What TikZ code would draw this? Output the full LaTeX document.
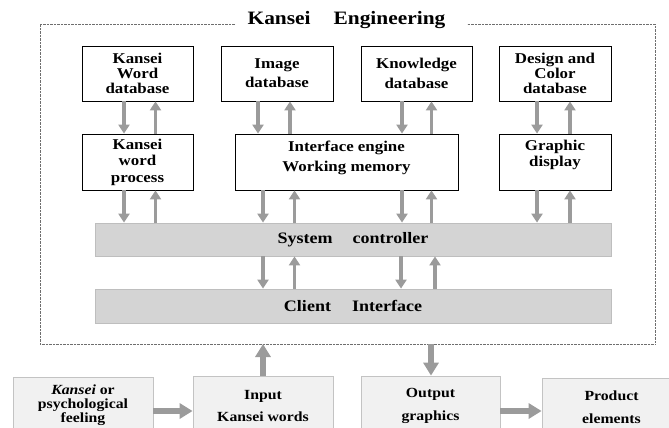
\documentclass[tikz,border=0pt]{standalone}
\usepackage{fontspec}
\setmainfont[FakeStretch=1.13]{Liberation Serif}
\usetikzlibrary{arrows.meta,calc}
\definecolor{arrowgray}{RGB}{155,155,155}
\definecolor{barfill}{RGB}{212,212,212}
\definecolor{barline}{RGB}{190,190,190}
\definecolor{lowfill}{RGB}{241,241,241}
\definecolor{lowline}{RGB}{195,195,195}
\definecolor{framecol}{RGB}{110,110,110}
\begin{document}
\begin{tikzpicture}[x=1bp,y=-1bp,
  topbox/.style={draw=black, line width=0.8bp, fill=white, minimum width=111bp,
    minimum height=55bp, inner sep=0pt, align=center},
  bar/.style={draw=barline, line width=0.8bp, fill=barfill, minimum width=516bp,
    minimum height=33bp, inner sep=0pt, font={\bfseries\fontsize{16}{16}\selectfont}},
  lowbox/.style={draw=lowline, line width=0.8bp, fill=lowfill, minimum width=140bp,
    minimum height=60bp, inner sep=0pt, align=center},
  lead/.style={font={\bfseries\fontsize{15}{#1}\selectfont}},
  lowlead/.style={font={\bfseries\fontsize{14}{#1}\selectfont}},
  thinarrow/.style={color=arrowgray, line width=3.3bp, -{Triangle[width=11bp,length=9bp]}},
  thickarrow/.style={color=arrowgray, line width=6.3bp, -{Triangle[width=15bp,length=13bp]}},
  framestyle/.style={draw=framecol, line width=0.7bp, dash pattern=on 0.7bp off 0.7bp},
  titletext/.style={inner sep=0pt, font={\bfseries\fontsize{19}{19}\selectfont}}
]
\useasboundingbox (0,0) rectangle (669,427);
\clip (0,0) rectangle (669,427);

% frame and title
\draw[framestyle] (235,24) -- (40,24) -- (40,344) -- (655,344) -- (655,24) -- (467,24);
\node[titletext] (title) at (346.5,20) {Kansei\hspace{23bp}Engineering};

% top row
\node[topbox, lead=15] (kwd) at (137.5,73.5) {Kansei\\Word\\database};
\node[topbox, lead=19, minimum width=112bp] (img) at (277,73.5) {Image\\database};
\node[topbox, lead=20] (knw) at (416.5,73.5) {Knowledge\\database};
\node[topbox, lead=15, minimum width=112bp] (dcd) at (555,73.5) {Design and\\Color\\database};

% middle row
\node[topbox, lead=16.5, minimum height=56bp] (kwp) at (137.5,162) {Kansei\\word\\process};
\node[topbox, lead=20, minimum height=56bp, minimum width=223bp, text depth=11bp] (ie) at (346.5,162) {Interface engine\\Working memory};
\node[topbox, lead=16, minimum height=56bp, minimum width=112bp, text depth=17bp] (gd) at (555,162) {Graphic\\display};

% bars
\node[bar] (sys) at (353,239.5) {System\hspace{20bp}controller};
\node[bar, minimum height=34bp] (cli) at (353,306) {Client\hspace{21bp}Interface};

% bottom boxes
\node[lowbox, lowlead=14, minimum height=56bp] (kf) at (83,405) {\textit{Kansei} or\\psychological\\feeling};
\node[lowbox, lowlead=22.5] (inp) at (263,406) {Input\\Kansei words};
\node[lowbox, lowlead=22.5, minimum width=139bp] (out) at (430.5,406) {Output\\graphics};
\node[lowbox, lowlead=23, minimum width=139bp, minimum height=58bp] (prod) at (611.5,407) {Product\\elements};

% column coordinates
\coordinate (a1) at (124,0);  \coordinate (a2) at (155.5,0);
\coordinate (b1) at (258,0);  \coordinate (b2) at (290,0);
\coordinate (c1) at (263,0);  \coordinate (c2) at (294.5,0);
\coordinate (d1) at (402,0);  \coordinate (d2) at (431.5,0);
\coordinate (e1) at (537,0);  \coordinate (e2) at (570,0);
\coordinate (f1) at (401,0);  \coordinate (f2) at (435,0);

% top -> middle
\draw[thinarrow] (kwd.south -| a1) -- (kwp.north -| a1);
\draw[thinarrow] (kwp.north -| a2) -- (kwd.south -| a2);
\draw[thinarrow] (img.south -| b1) -- (ie.north -| b1);
\draw[thinarrow] (ie.north -| b2) -- (img.south -| b2);
\draw[thinarrow] (knw.south -| d1) -- (ie.north -| d1);
\draw[thinarrow] (ie.north -| d2) -- (knw.south -| d2);
\draw[thinarrow] (dcd.south -| e1) -- (gd.north -| e1);
\draw[thinarrow] (gd.north -| e2) -- (dcd.south -| e2);

% middle -> system controller
\draw[thinarrow] (kwp.south -| a1) -- (sys.north -| a1);
\draw[thinarrow] (sys.north -| a2) -- (kwp.south -| a2);
\draw[thinarrow] (ie.south -| c1) -- (sys.north -| c1);
\draw[thinarrow] (sys.north -| c2) -- (ie.south -| c2);
\draw[thinarrow] (ie.south -| d1) -- (sys.north -| d1);
\draw[thinarrow] (sys.north -| d2) -- (ie.south -| d2);
\draw[thinarrow] (gd.south -| e1) -- (sys.north -| e1);
\draw[thinarrow] (sys.north -| e2) -- (gd.south -| e2);

% system controller -> client interface
\draw[thinarrow] (sys.south -| c1) -- (cli.north -| c1);
\draw[thinarrow] (cli.north -| c2) -- (sys.south -| c2);
\draw[thinarrow] (sys.south -| f1) -- (cli.north -| f1);
\draw[thinarrow] (cli.north -| f2) -- (sys.south -| f2);

% bottom flow
\coordinate (fin) at (263,344);
\coordinate (fout) at (431,344);
\coordinate (hy) at (0,411);
\draw[thickarrow] (inp.north) -- (fin);
\draw[thickarrow] (fout) -- (out.north -| fout);
\draw[thickarrow] (kf.east |- hy) -- (inp.west |- hy);
\draw[thickarrow] (out.east |- hy) -- (prod.west |- hy);
\end{tikzpicture}
\end{document}
